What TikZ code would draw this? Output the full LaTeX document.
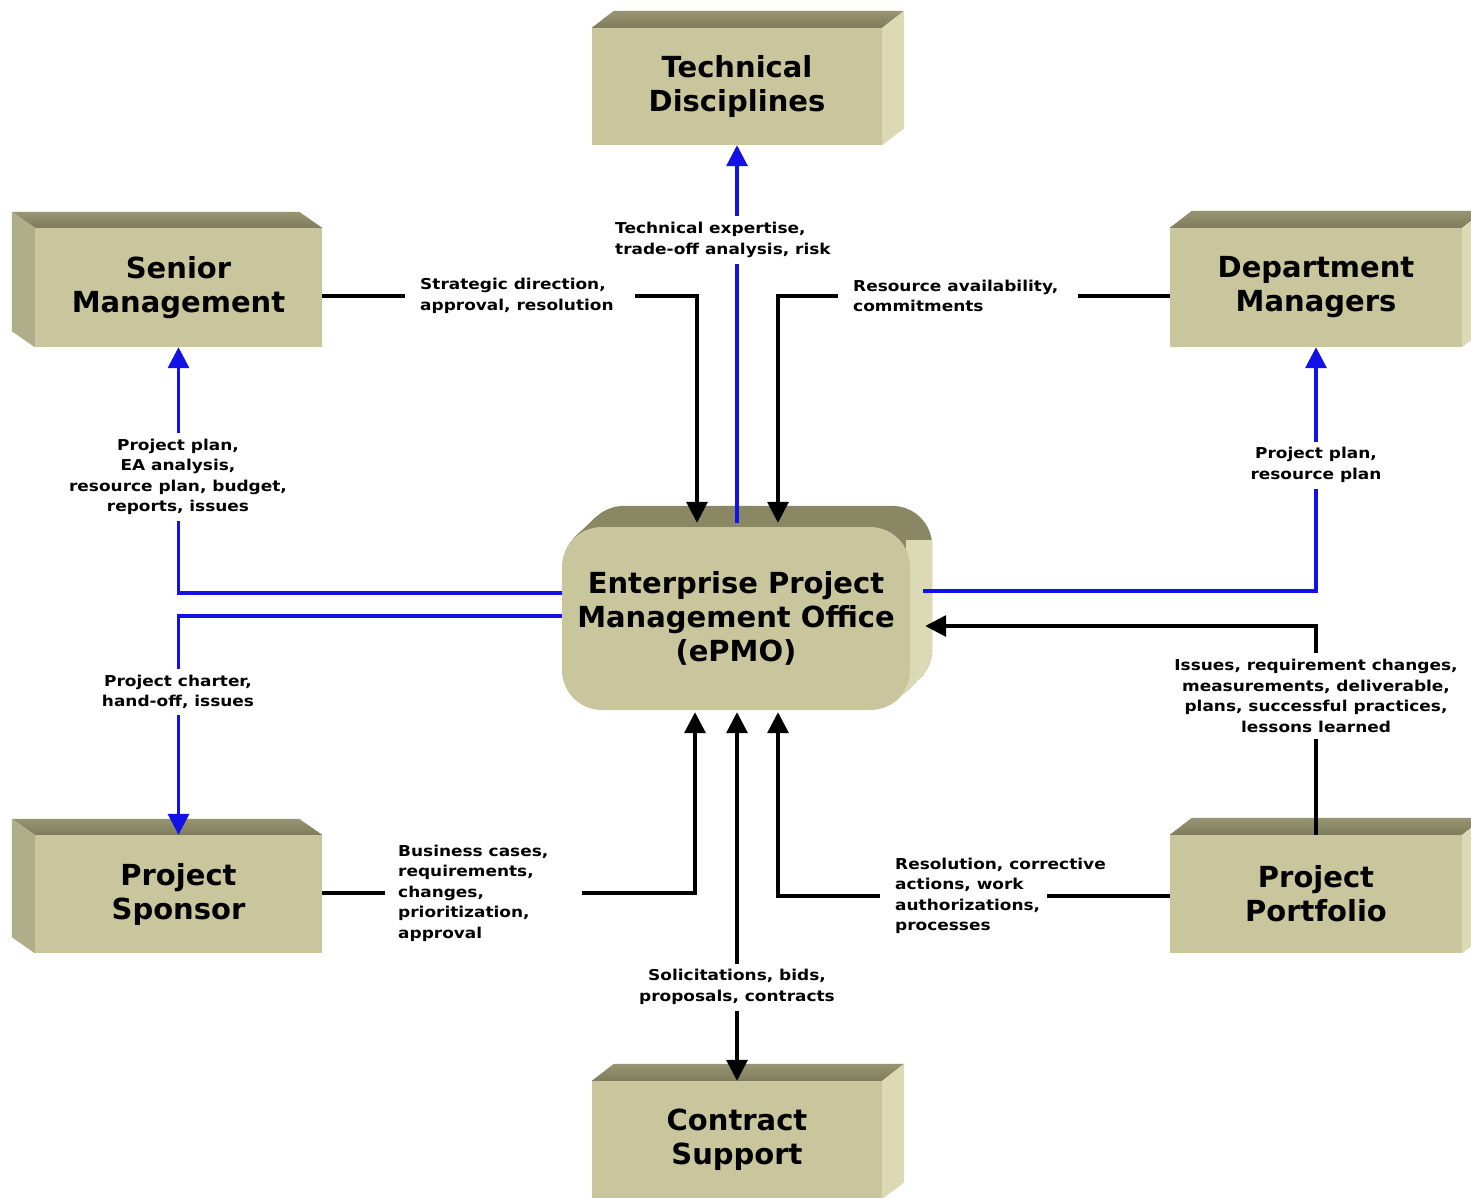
\documentclass[tikz,border=0pt]{standalone}
\usepackage{fontspec}
\usetikzlibrary{arrows.meta,calc}
\newfontfamily\lblfont[FakeStretch=1.13]{DejaVu Sans}
\newfontfamily\ttlfont{DejaVu Sans}
\definecolor{frontc}{RGB}{201,197,157}
\definecolor{topback}{RGB}{152,149,114}
\definecolor{topfront}{RGB}{126,124,92}
\definecolor{leftc}{RGB}{176,173,138}
\definecolor{rightc}{RGB}{220,218,180}
\definecolor{epmotop}{RGB}{138,135,100}
\definecolor{blu}{RGB}{18,18,230}
\pgfdeclarelayer{bg}
\pgfdeclarelayer{back}
\pgfdeclarelayer{lines}
\pgfsetlayers{bg,back,lines,main}
\newcommand\facesL[1]{%
  \shade[top color=topback, bottom color=topfront] (#1.north west) -- ++(-23,-16) -- ($(#1.north east)+(-23,-16)$) -- (#1.north east) -- cycle;
  \fill[leftc] (#1.north west) -- ++(-23,-16) -- ($(#1.south west)+(-23,-16)$) -- (#1.south west) -- cycle;}
\newcommand\facesR[1]{%
  \shade[top color=topback, bottom color=topfront] (#1.north west) -- ++(22,-17) -- ($(#1.north east)+(22,-17)$) -- (#1.north east) -- cycle;
  \fill[rightc] (#1.north east) -- ++(22,-17) -- ($(#1.south east)+(22,-17)$) -- (#1.south east) -- cycle;}
\begin{document}
\begin{tikzpicture}[x=1pt,y=-1pt,
  blockbox/.style={fill=frontc, draw=none, inner sep=0pt, align=center,
    font=\ttlfont\bfseries\fontsize{29}{34}\selectfont, text=black},
  epmobox/.style={blockbox, rounded corners=40pt, minimum width=348pt, minimum height=183pt},
  lbl/.style={font=\lblfont\bfseries\fontsize{15}{20.5}\selectfont, inner sep=0pt, align=left, text=black},
  wlbl/.style={lbl, fill=white, inner xsep=4pt, inner ysep=6pt, align=center},
  blk/.style={line width=3.5pt, black},
  bl/.style={line width=3.5pt, blu},
  arr/.style={-{Triangle[length=21pt,width=21pt]}},
  darr/.style={{Triangle[length=21pt,width=21pt]}-{Triangle[length=21pt,width=21pt]}}
]
\begin{pgfonlayer}{bg}
  \fill[white] (0,0) rectangle (1471,1197);
\end{pgfonlayer}
\useasboundingbox (0,0) rectangle (1471,1197);

% blocks
\node[blockbox, minimum width=287pt, minimum height=119pt] (SM) at (178.5,287.5) {Senior\\Management};
\node[blockbox, minimum width=287pt, minimum height=118pt] (PS) at (178.5,894) {Project\\Sponsor};
\node[blockbox, minimum width=290pt, minimum height=117pt] (TD) at (737,86.5) {Technical\\Disciplines};
\node[blockbox, minimum width=292pt, minimum height=119pt] (DM) at (1316,287.5) {Department\\Managers};
\node[blockbox, minimum width=292pt, minimum height=118pt] (PP) at (1316,894) {Project\\Portfolio};
\node[blockbox, minimum width=290pt, minimum height=118pt] (CS) at (737,1140) {Contract\\Support};
\begin{pgfonlayer}{back}
  \facesL{SM}
  \facesL{PS}
  \facesR{TD}
  \facesR{DM}
  \facesR{PP}
  \facesR{CS}
\end{pgfonlayer}

\node[epmobox] (ePMO) at (736,618.5) {Enterprise Project\\Management Office\\(ePMO)};
\begin{pgfonlayer}{back}
  \foreach \i in {22,21,...,1} {
    \fill[epmotop, rounded corners=40pt] ($(ePMO.south west)+(\i,-\i*0.95)$) rectangle ($(ePMO.north east)+(\i,-\i*0.95)$);
  }
  \begin{scope}
    \clip (906,540) rectangle (945,725) (866,650) rectangle (945,725);
    \foreach \i in {22,21,...,1} {
      \fill[rightc, rounded corners=40pt] ($(ePMO.south west)+(\i,-\i*0.95)$) rectangle ($(ePMO.north east)+(\i,-\i*0.95)$);
    }
  \end{scope}
\end{pgfonlayer}

% ports on the ePMO block
\coordinate (pT1) at ($(ePMO.north)+(-39,-4)$);
\coordinate (pT2) at ($(ePMO.north)+(1,-4)$);
\coordinate (pT3) at ($(ePMO.north)+(42,-4)$);
\coordinate (pB1) at ($(ePMO.south)+(-41,2)$);
\coordinate (pB2) at ($(ePMO.south)+(1,2)$);
\coordinate (pB3) at ($(ePMO.south)+(42,2)$);
\coordinate (pL1) at ($(ePMO.west)+(0,-25.5)$);
\coordinate (pL2) at ($(ePMO.west)+(0,-2.5)$);
\coordinate (pR1) at ($(ePMO.east)+(13,-27.5)$);
\coordinate (pR2) at ($(ePMO.east)+(15,7.5)$);

% labels
\node[lbl, anchor=west] (L1) at (420,296) {Strategic direction,\\approval, resolution};
\node[wlbl, anchor=west, align=left] (L2) at (611,240) {Technical expertise,\\trade-off analysis, risk};
\node[lbl, anchor=west] (L3) at (853,296) {Resource availability,\\commitments};
\node[wlbl] (L4) at (178,477) {Project plan,\\EA analysis,\\resource plan, budget,\\reports, issues};
\node[wlbl] (L5) at (178,692) {Project charter,\\hand-off, issues};
\node[wlbl] (L6) at (1316,465) {Project plan,\\resource plan};
\node[wlbl] (L7) at (1316,696) {Issues, requirement changes,\\measurements, deliverable,\\plans, successful practices,\\lessons learned};
\node[lbl, anchor=west] (L8) at (398,893) {Business cases,\\requirements,\\changes,\\prioritization,\\approval};
\node[lbl, anchor=west] (L9) at (895,896) {Resolution, corrective\\actions, work\\authorizations,\\processes};
\node[wlbl] (L10) at (737,987) {Solicitations, bids,\\proposals, contracts};

% connectors
\begin{pgfonlayer}{lines}
  \draw[blk] (SM.east |- L1.west) -- ($(L1.west)+(-15,0)$);
  \draw[blk,arr] ($(L1.west)+(215,0)$) -| (pT1);
  \draw[bl,arr] (pT2) -- (TD.south);
  \draw[blk] (DM.west |- L3.west) -- ($(L3.west)+(225,0)$);
  \draw[blk,arr] ($(L3.west)+(-15,0)$) -| (pT3);
  \draw[bl,arr] (pL1) -| (SM.south);
  \draw[bl,arr] (pL2) -| (PS.north);
  \draw[bl,arr] (pR1) -| (DM.south);
  \draw[blk,arr] (PP.north) |- (pR2);
  \draw[blk] (PS.east |- L8.west) -- ($(L8.west)+(-13,0)$);
  \draw[blk,arr] ($(L8.west)+(184,0)$) -| (pB1);
  \draw[blk] (PP.west |- L9.west) -- ($(L9.west)+(152,0)$);
  \draw[blk,arr] ($(L9.west)+(-15,0)$) -| (pB3);
  \draw[blk,darr] (pB2) -- (CS.north);
\end{pgfonlayer}
\end{tikzpicture}
\end{document}
